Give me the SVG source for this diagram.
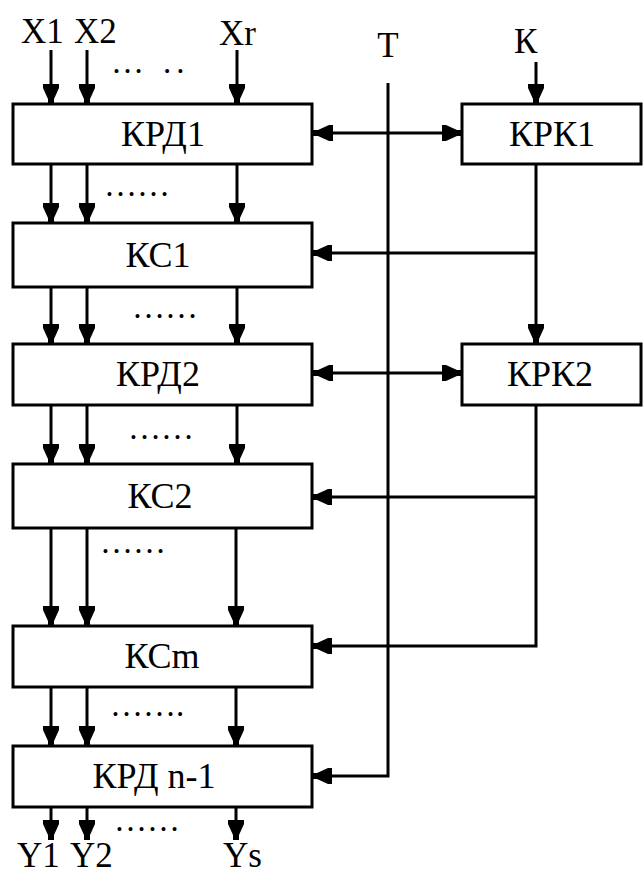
<svg xmlns="http://www.w3.org/2000/svg" width="643" height="875" viewBox="0 0 643 875">
<style>
.box{fill:#fff;stroke:#000;stroke-width:3}
.ln{fill:none;stroke:#000;stroke-width:3}
.arr{marker-end:url(#ah)}
.bi{marker-end:url(#ah);marker-start:url(#ah)}
text{font-family:"Liberation Serif","Times New Roman",serif;font-size:36px;fill:#000}
.lb{font-size:35px}
.d{font-size:33px}
.c{text-anchor:middle}
</style>
<defs>
<marker id="ah" viewBox="0 0 20 16" refX="20" refY="8" markerWidth="20" markerHeight="16" markerUnits="userSpaceOnUse" orient="auto-start-reverse">
<path d="M0,0 H4 L15,5 H20 V11 H15 L4,16 H0 Z" fill="#000"/>
</marker>
</defs>
<rect width="643" height="875" fill="#fff"/>
<g id="connectors">
<line class="ln arr" x1="51" y1="50" x2="51" y2="104"/>
<line class="ln arr" x1="87" y1="50" x2="87" y2="104"/>
<line class="ln arr" x1="237" y1="50" x2="237" y2="104"/>
<line class="ln arr" x1="51" y1="164" x2="51" y2="223"/>
<line class="ln arr" x1="87" y1="164" x2="87" y2="223"/>
<line class="ln arr" x1="237" y1="164" x2="237" y2="223"/>
<line class="ln arr" x1="51" y1="287" x2="51" y2="344"/>
<line class="ln arr" x1="87" y1="287" x2="87" y2="344"/>
<line class="ln arr" x1="237" y1="287" x2="237" y2="344"/>
<line class="ln arr" x1="51" y1="405" x2="51" y2="464"/>
<line class="ln arr" x1="87" y1="405" x2="87" y2="464"/>
<line class="ln arr" x1="237" y1="405" x2="237" y2="464"/>
<line class="ln arr" x1="51" y1="528" x2="51" y2="626"/>
<line class="ln arr" x1="87" y1="528" x2="87" y2="626"/>
<line class="ln arr" x1="236" y1="528" x2="236" y2="626"/>
<line class="ln arr" x1="51" y1="687" x2="51" y2="746"/>
<line class="ln arr" x1="87" y1="687" x2="87" y2="746"/>
<line class="ln arr" x1="236" y1="687" x2="236" y2="746"/>
<line class="ln arr" x1="51" y1="807" x2="51" y2="840"/>
<line class="ln arr" x1="87" y1="807" x2="87" y2="840"/>
<line class="ln arr" x1="236" y1="807" x2="236" y2="840"/>
<line class="ln arr" x1="536" y1="62" x2="536" y2="104"/>
<polyline class="ln arr" points="388,83 388,776 312,776"/>
<line class="ln bi" x1="313" y1="133" x2="462" y2="133"/>
<line class="ln bi" x1="313" y1="373" x2="462" y2="373"/>
<line class="ln arr" x1="536" y1="164" x2="536" y2="344"/>
<line class="ln arr" x1="536" y1="253" x2="312" y2="253"/>
<polyline class="ln arr" points="536,405 536,646 312,646"/>
<line class="ln arr" x1="536" y1="497" x2="312" y2="497"/>
</g>
<g id="krd1"><rect class="box" x="13" y="104" width="299" height="60"/><text class="c" x="163" y="146">КРД1</text></g>
<g id="ks1"><rect class="box" x="13" y="223" width="299" height="64"/><text class="c" x="158" y="267">КС1</text></g>
<g id="krd2"><rect class="box" x="13" y="344" width="299" height="61"/><text class="c" x="158" y="386">КРД2</text></g>
<g id="ks2"><rect class="box" x="13" y="464" width="299" height="64"/><text class="c" x="160" y="508">КС2</text></g>
<g id="ksm"><rect class="box" x="13" y="626" width="299" height="61"/><text class="c" x="162" y="668">КСm</text></g>
<g id="krdn1"><rect class="box" x="13" y="746" width="299" height="61"/><text class="c" x="154" y="788">КРД n-1</text></g>
<g id="krk1"><rect class="box" x="462" y="104" width="179" height="60"/><text class="c" x="552" y="146">КРК1</text></g>
<g id="krk2"><rect class="box" x="462" y="344" width="179" height="61"/><text class="c" x="550" y="386">КРК2</text></g>
<g id="labels">
<text class="lb" x="21" y="43">X1</text>
<text class="lb" x="74" y="43">X2</text>
<text class="lb" x="219" y="45">Xr</text>
<text class="lb c" x="388" y="57">T</text>
<text class="lb" x="514" y="53">К</text>
<text class="lb" x="17" y="867">Y1</text>
<text class="lb" x="70" y="867">Y2</text>
<text class="lb" x="223" y="867">Ys</text>
<text class="d" x="111" y="73">…</text>
<text class="d" x="163" y="73" letter-spacing="5">..</text>
<text class="d" x="104" y="196">……</text>
<text class="d" x="132" y="318">……</text>
<text class="d" x="128" y="439">……</text>
<text class="d" x="100" y="553">……</text>
<text class="d" x="110" y="716">…….</text>
<text class="d" x="114" y="831">……</text>
</g>
</svg>
